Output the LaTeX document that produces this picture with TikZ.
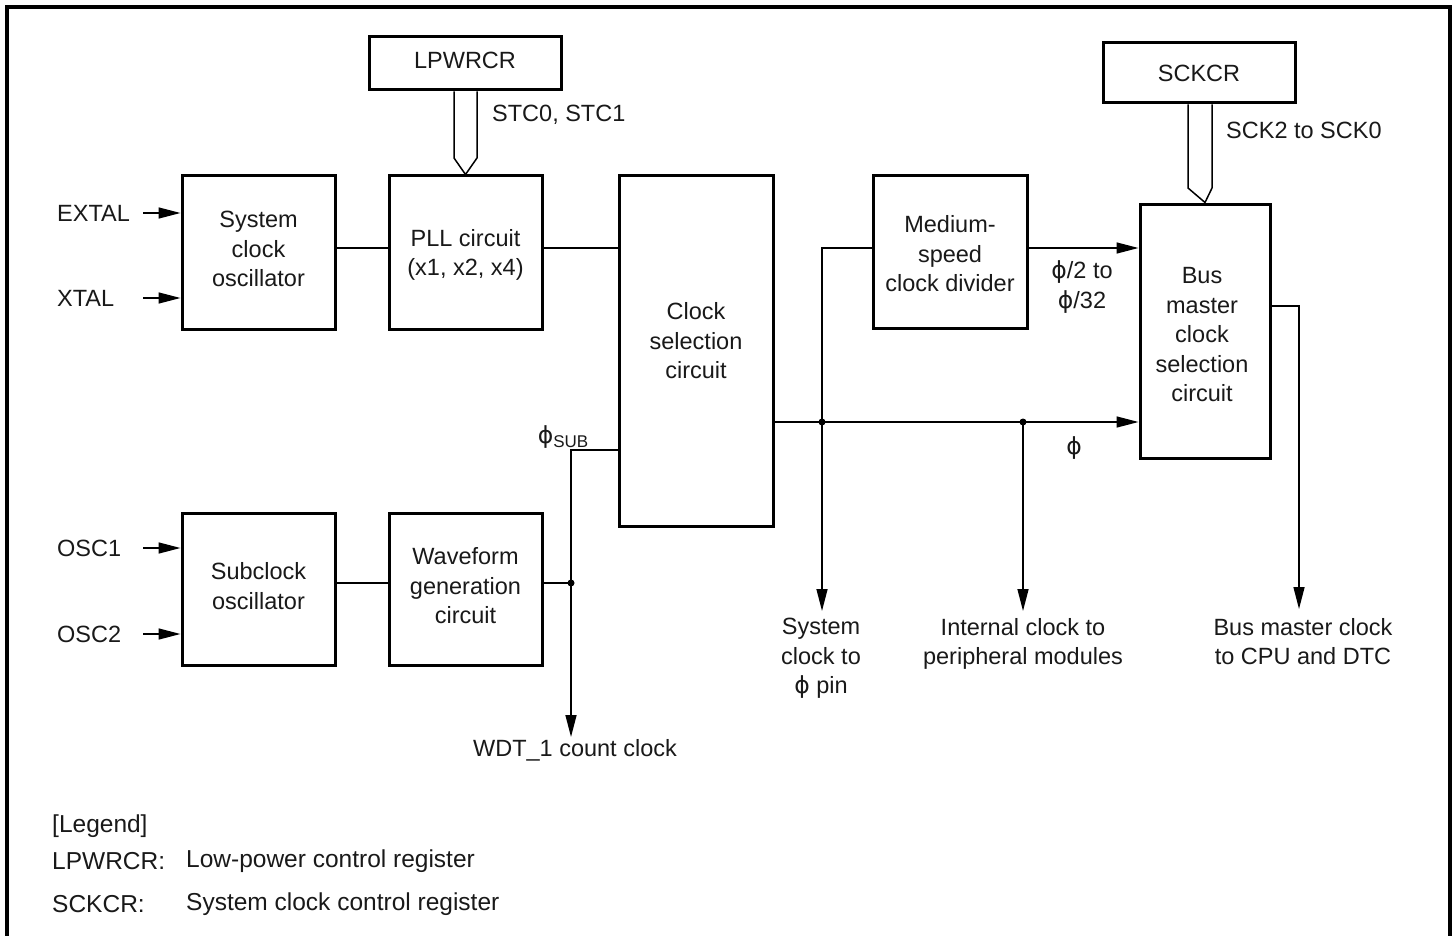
\documentclass[tikz,border=0pt]{standalone}
\usepackage{fontspec}
\setmainfont{Liberation Sans}
\newfontfamily\phifont{DejaVu Sans}
\usetikzlibrary{arrows.meta}
\newcommand{\ph}{{\phifont ϕ}}
\begin{document}
\begin{tikzpicture}[x=1pt,y=-1pt,
  every node/.style={font=\fontsize{23.5}{29.5}\selectfont, inner sep=0pt, text=black!90},
  blk/.style={draw, line width=3pt},
  txt/.style={align=center},
  lgd/.style={anchor=west, font=\fontsize{24.5}{29.5}\selectfont},
  wire/.style={line width=1.5pt},
  arr/.style={wire, -{Triangle[length=22pt,width=11pt]}},
  jdot/.style={circle, fill, minimum size=7pt, inner sep=0pt},
  hollow/.style={line width=1.5pt, line join=miter}
]
\useasboundingbox (0,0) rectangle (1455,936);
% frame
\draw[line width=4pt] (7,945) -- (7,7) -- (1450,7) -- (1450,945);

% registers
\node[blk, minimum width=192pt, minimum height=53pt] (lpwrcr) at (465,63.5) {};
\node (lpwrcrT) at (465,60) {LPWRCR};
\node[blk, minimum width=192pt, minimum height=60pt] (sckcr) at (1199,73) {};
\node (sckcrT) at (1199,73) {SCKCR};

% blocks
\node[blk, minimum width=153pt, minimum height=153pt] (sysosc) at (258.5,252.5) {};
\node[txt] (sysoscT) at (258.5,249) {System\\clock\\oscillator};
\node[blk, minimum width=153pt, minimum height=153pt] (pll) at (465.5,252.5) {};
\node[txt] (pllT) at (465.5,255) {PLL circuit\\(x1, x2, x4)};
\node[blk, minimum width=154pt, minimum height=350pt] (clk) at (696,351) {};
\node[txt] (clkT) at (696,341) {Clock\\selection\\circuit};
\node[blk, minimum width=154pt, minimum height=152pt] (med) at (950,252) {};
\node[txt] (medT) at (950,254) {Medium-\\speed\\clock divider};
\node[blk, minimum width=130pt, minimum height=254pt] (bus) at (1205,331) {};
\node[txt] (busT) at (1202,335) {Bus\\master\\clock\\selection\\circuit};
\node[blk, minimum width=153pt, minimum height=152pt] (sub) at (258.5,589) {};
\node[txt] (subT) at (258.5,586) {Subclock\\oscillator};
\node[blk, minimum width=153pt, minimum height=152pt] (wave) at (465.5,589) {};
\node[txt] (waveT) at (465.5,586) {Waveform\\generation\\circuit};

% hollow register arrows
\draw[hollow] (lpwrcr.south -| 454,0) -- (454,158) -- (pll.north) -- (477,158) -- (lpwrcr.south -| 477,0);
\draw[hollow] (sckcr.south -| 1188,0) -- (1188,188) -- (bus.north) -- (1212,188) -- (sckcr.south -| 1212,0);
\node[anchor=west] (stc) at (492,115) {STC0, STC1};
\node[anchor=west] (sck) at (1226,130) {SCK2 to SCK0};

% inputs
\node[anchor=west] (extal) at (57,213) {EXTAL};
\node[anchor=west] (xtal) at (57,298) {XTAL};
\node[anchor=west] (osc1) at (57,548) {OSC1};
\node[anchor=west] (osc2) at (57,634) {OSC2};
\coordinate (extalS) at (143,213);
\coordinate (xtalS) at (143,298);
\coordinate (osc1S) at (143,548);
\coordinate (osc2S) at (143,634);
\draw[arr] (extalS) -- (sysosc.west |- extalS);
\draw[arr] (xtalS) -- (sysosc.west |- xtalS);
\draw[arr] (osc1S) -- (sub.west |- osc1S);
\draw[arr] (osc2S) -- (sub.west |- osc2S);

% internal wires
\draw[wire] (sysosc.east |- 0,248) -- (pll.west |- 0,248);
\draw[wire] (pll.east |- 0,248) -- (clk.west |- 0,248);
\draw[wire] (sub.east |- 0,583) -- (wave.west |- 0,583);

% phi sub
\coordinate (jsub) at (571,583);
\coordinate (wdtE) at (571,737);
\draw[wire] (wave.east |- jsub) -- (jsub);
\draw[arr] (clk.west |- 0,450) -- (571,450) -- (wdtE);
\node[jdot] (dsub) at (jsub) {};
\node (phisub) at (563,437) {\ph\raisebox{-0.35ex}{\fontsize{17}{17}\selectfont SUB}};
\node (wdt) at (575,750) {WDT\_1 count clock};

% phi main line
\coordinate (j1) at (822,422);
\coordinate (j2) at (1023,422);
\draw[arr] (clk.east |- j1) -- (bus.west |- j1);
\node[jdot] (d1) at (j1) {};
\node[jdot] (d2) at (j2) {};
\coordinate (e1) at (822,611);
\coordinate (e2) at (1023,611);
\draw[arr] (j1) -- (e1);
\draw[arr] (j2) -- (e2);
\draw[wire] (j1) -- (822,248) -- (med.west |- 0,248);
\draw[arr] (med.east |- 0,248) -- (bus.west |- 0,248);
\node[txt] (phidiv) at (1082,287) {\ph/2 to\\\ph/32};
\node (phi) at (1074,448) {\ph};

% bus master out
\coordinate (e3) at (1299,609);
\draw[arr] (bus.east |- 0,306) -- (1299,306) -- (e3);

% outputs
\node[txt, anchor=north] (o1) at (821,618) {System\\clock to\\\ph{} pin};
\node[txt, anchor=north] (o2) at (1023,618) {Internal clock to\\peripheral modules};
\node[txt, anchor=north] (o3) at (1303,618) {Bus master clock\\to CPU and DTC};

% legend
\node[lgd] (lg) at (52,826) {[Legend]};
\node[lgd] (lg1) at (52,861) {LPWRCR:};
\node[lgd] (lg1b) at (186,861) {Low-power control register};
\node[lgd] (lg2) at (52,904) {SCKCR:};
\node[lgd] (lg2b) at (186,904) {System clock control register};
\end{tikzpicture}
\end{document}
